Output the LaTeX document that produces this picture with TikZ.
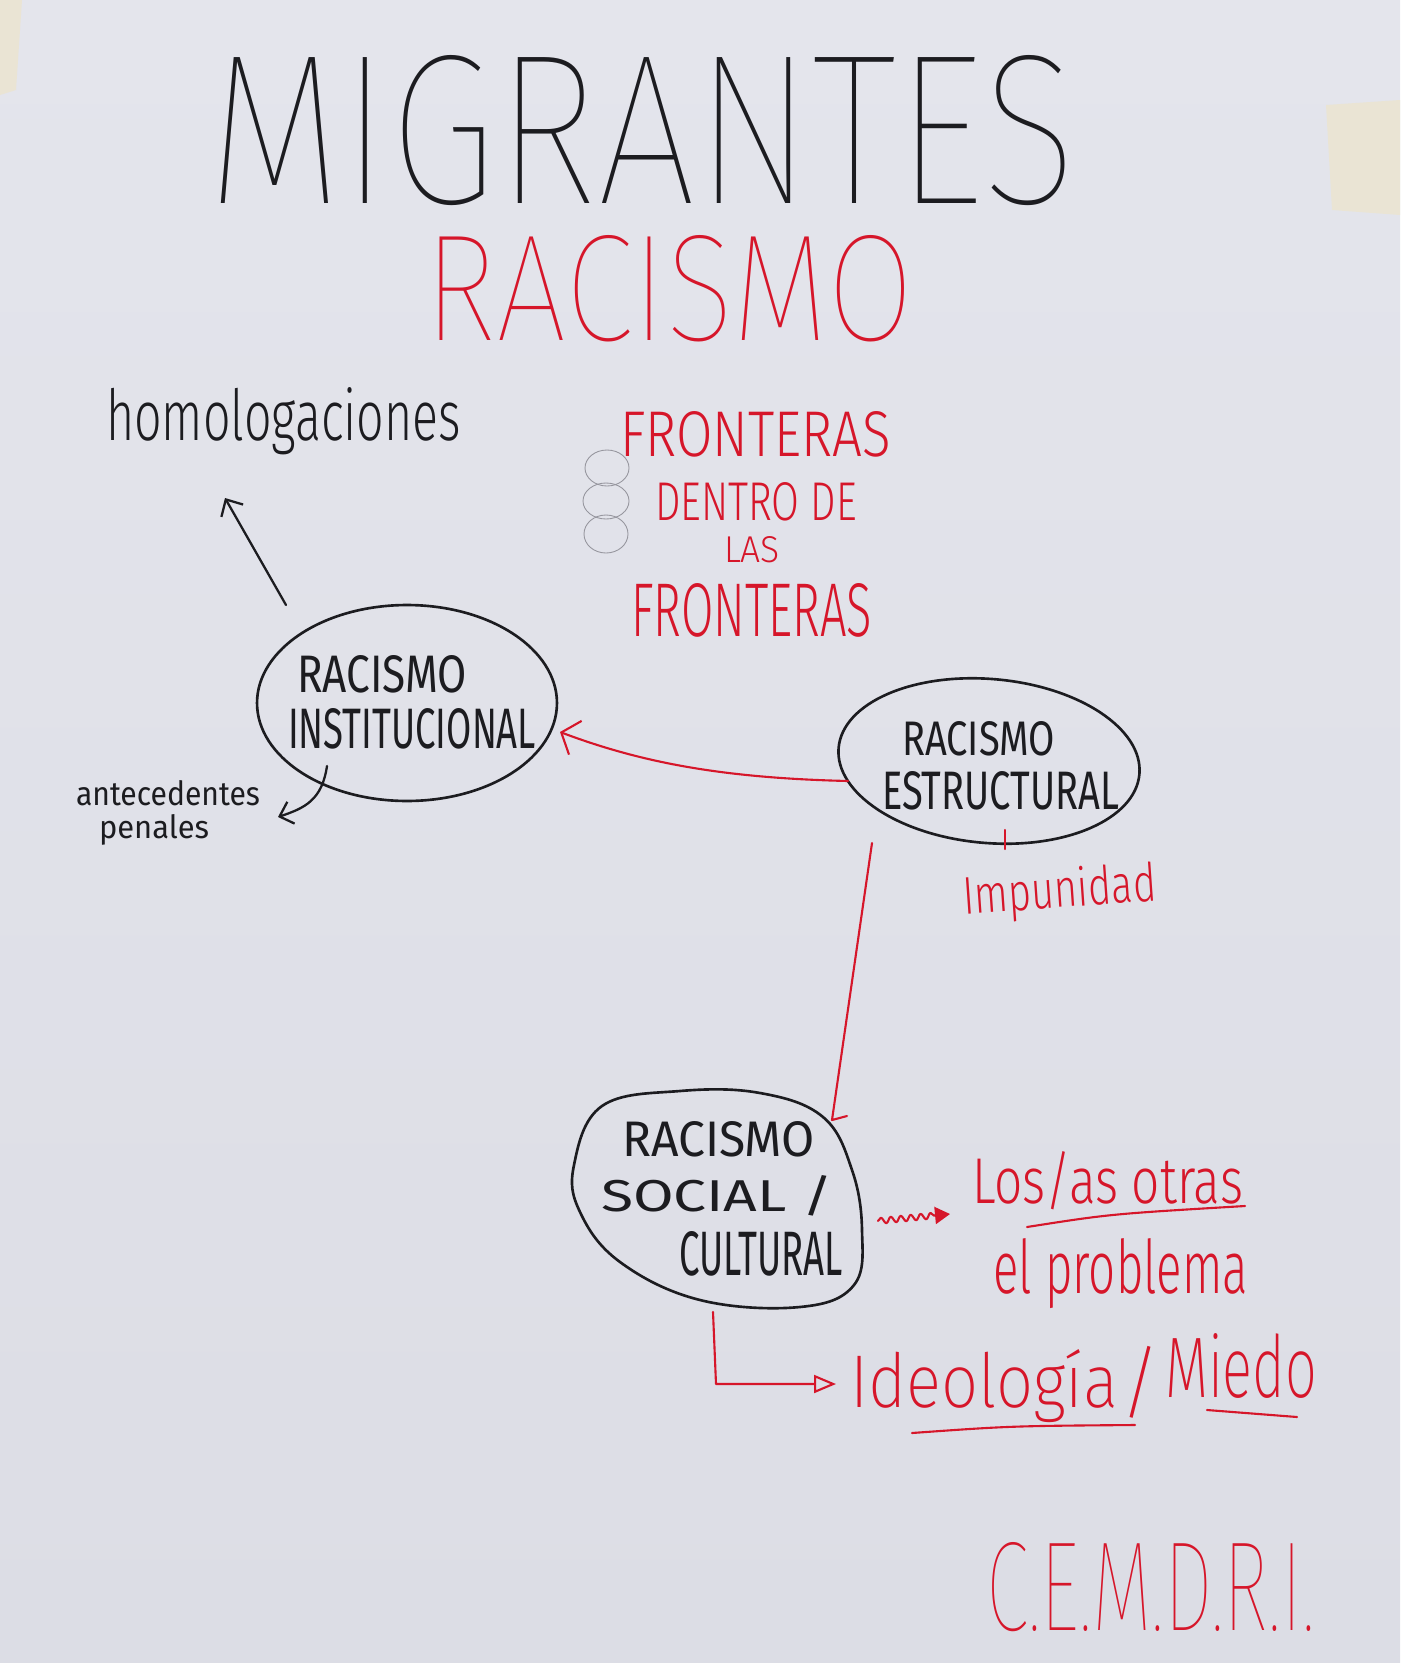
\documentclass[tikz,border=0pt]{standalone}
\usepackage{graphicx}
\usepackage{fontspec}
\setmainfont{Fira Sans}
\newfontfamily\pen{Fira Sans}
% lighter pens where the installed fonts allow it
\IfFontExistsTF{Fira Sans Light}{\newfontfamily\penlight{Fira Sans Light}}{%
  \IfFontExistsTF{Lato Light}{\newfontfamily\penlight{Lato Light}}{\newfontfamily\penlight{Fira Sans}}}
\IfFontExistsTF{Fira Sans Thin}{\newfontfamily\penthin{Fira Sans Thin}}{%
  \IfFontExistsTF{Lato Thin}{\newfontfamily\penthin{Lato Thin}}{%
    \IfFontExistsTF{Lato Hairline}{\newfontfamily\penthin{Lato Hairline}}{\let\penthin\penlight}}}
\IfFontExistsTF{Fira Sans ExtraLight}{\newfontfamily\penxlight{Fira Sans ExtraLight}}{\let\penxlight\penthin}
\usetikzlibrary{shapes.geometric,arrows.meta,decorations.pathmorphing}
\definecolor{paper}{RGB}{228,229,236}
\definecolor{paperlow}{RGB}{220,221,229}
\definecolor{inkblack}{RGB}{28,28,32}
\definecolor{inkred}{RGB}{214,22,42}
\definecolor{pencil}{RGB}{150,150,158}
\definecolor{tape}{RGB}{234,228,212}
% one unit of the picture grid
\newlength\pxu
\setlength\pxu{0.02cm}
% fit a handwritten word into a box of given width and height (grid units)
\newcommand\penbox[3]{\resizebox{#1\pxu}{#2\pxu}{#3}}

\begin{document}
\begin{tikzpicture}[x=0.02cm,y=-0.02cm,
  word/.style={inner sep=0pt,outer sep=0pt,anchor=base west},
  blackink/.style={text=inkblack},
  redink/.style={text=inkred},
  rim/.style={draw=inkblack,line width=1.5pt,inner sep=0pt},
  redline/.style={draw=inkred,line width=1.2pt,line cap=round,line join=round},
  blackline/.style={draw=inkblack,line width=1.3pt,line cap=round,line join=round},
  ring/.style={draw=pencil,line width=0.5pt},
]
\useasboundingbox (0,0) rectangle (1400,1663);
% the sheet and its tape
\shade[top color=paper,bottom color=paperlow] (0,0) rectangle (1400,1663);
\fill[tape] (0,0) -- (22,0) -- (16,90) -- (0,95) -- cycle;
\fill[tape] (1326,105) -- (1400,100) -- (1400,215) -- (1332,210) -- cycle;

% headings
\node[word,blackink] (title) at (207,203) {\penbox{870}{148}{\penthin MIGRANTES}};
\node[word,redink] (theme) at (424,340) {\penbox{490}{105}{\penthin RACISMO}};

% upper left
\node[word,blackink] (homolog) at (106,440) {\penbox{355}{53}{\penlight homologaciones}};

% borders block
\node[word,redink] (front1) at (620,456) {\penbox{271}{45}{\penlight FRONTERAS}};
\node[word,redink] (dentro) at (655,520) {\penbox{202}{38}{\penlight DENTRO DE}};
\node[word,redink] (las) at (724,562) {\penbox{56}{26}{\penlight LAS}};
\node[word,redink] (front2) at (631,636) {\penbox{241}{53}{\penlight FRONTERAS}};
\draw[ring] (607,468) ellipse [x radius=22,y radius=18];
\draw[ring] (606,501) ellipse [x radius=23,y radius=18];
\draw[ring] (606,534) ellipse [x radius=22,y radius=19];

% institutional racism
\node[rim,ellipse,minimum width=6cm,minimum height=3.92cm] (inst) at (407,703) {};
\node[word,blackink] (inst1) at (297,692) {\penbox{170}{37}{\pen RACISMO}};
\node[word,blackink] (inst2) at (288,748) {\penbox{248}{40}{\pen INSTITUCIONAL}};
\node[word,blackink] (ante1) at (76,805) {\penbox{184}{25}{\pen antecedentes}};
\node[word,blackink] (ante2) at (99,838) {\penbox{110}{24}{\pen penales}};

% structural racism
\node[rim,ellipse,rotate=-5,minimum width=6.04cm,minimum height=3.28cm] (estr) at (989,761) {};
\node[word,blackink] (estr1) at (902,755) {\penbox{153}{34}{\pen RACISMO}};
\node[word,blackink] (estr2) at (882,809) {\penbox{237}{38}{\pen ESTRUCTURAL}};
\node[redink,inner sep=0pt,rotate=4] (impun) at (1060,893) {\penbox{193}{40}{\penlight Impunidad}};

% social / cultural racism: a hand-drawn loop round its three lines
\node[inner sep=0pt,minimum width=5.8cm,minimum height=4.2cm] (soc) at (718,1200) {};
\draw[rim] plot[smooth cycle,tension=0.65] coordinates {
  (574,1165) (602,1106) (680,1091) (760,1093) (823,1117) (852,1170)
  (862,1230) (854,1285) (800,1307) (700,1300) (620,1262) (580,1212)};
\node[word,blackink] (soc1) at (622,1156) {\penbox{193}{35}{\pen RACISMO}};
\node[word,blackink] (soc2) at (601,1211) {\penbox{232}{36}{\pen SOCIAL /}};
\node[word,blackink] (soc3) at (679,1275) {\penbox{164}{44}{\pen CULTURAL}};

% consequences
\node[word,redink] (otras) at (972,1203) {\penbox{271}{52}{\penlight Los/as otras}};
\node[word,redink] (probl) at (993,1293) {\penbox{255}{55}{\penlight el problema}};
\node[word,redink] (ideo) at (850,1407) {\penbox{268}{58}{\penxlight Ideología}};
\node[redink,inner sep=0pt,anchor=south west] (slash) at (1120,1419)
  {\resizebox*{40\pxu}{72\pxu}{\penxlight /}};
\node[word,redink] (miedo) at (1165,1397) {\penbox{152}{64}{\penxlight Miedo}};
\node[word,redink] (sign) at (986,1630) {\penbox{329}{88}{\penthin C.E.M.D.R.I.}};

% connector ends
\coordinate (hstart) at (286,605);
\coordinate (htip) at (225,498);
\coordinate (astart) at (327,766);
\coordinate (atip) at (278,817);
\coordinate (sstart) at (848,781);
\coordinate (stip) at (560,732);
\coordinate (vstart) at (872,843);
\coordinate (vtip) at (832,1120);
\coordinate (wstart) at (878,1221);
\coordinate (wtip) at (950,1214);
\coordinate (lstart) at (713,1312);
\coordinate (lcorner) at (716,1384);
\coordinate (ltip) at (836,1384);

% black arrows
\draw[blackline,-{Straight Barb[length=0.26cm,width=0.5cm]}] (hstart) -- (htip);
\draw[blackline,-{Straight Barb[length=0.24cm,width=0.46cm]}]
  (astart) .. controls (322,800) and (305,808) .. (atip);

% red arrows
\draw[redline,-{Straight Barb[length=0.3cm,width=0.72cm]}]
  (sstart) .. controls (720,778) and (640,762) .. (stip);
\draw[redline] (vstart) -- (vtip) -- ++(15,-4);
\draw[redline,-{Triangle[length=0.3cm,width=0.34cm]},
  decorate,decoration={snake,amplitude=0.06cm,segment length=0.2cm,post length=0.3cm}]
  (wstart) -- (wtip);
\draw[redline,-{Triangle[open,length=0.44cm,width=0.36cm]}] (lstart) -- (lcorner) -- (ltip);

% small marks and underlines
\draw[redline] (1005,830) -- (1005,849);
\draw[redline] (1027,1227) .. controls (1110,1214) .. (1245,1206);
\draw[redline] (912,1433) .. controls (1010,1426) .. (1135,1425);
\draw[redline] (1207,1410) -- (1297,1417);
\end{tikzpicture}
\end{document}
